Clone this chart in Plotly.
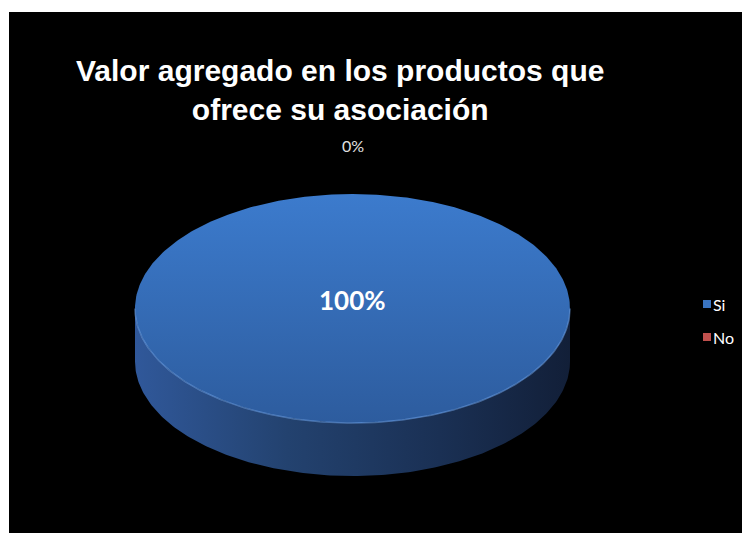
import numpy as np
import plotly.graph_objects as go

# Survey answers
categories = ["Si", "No"]
values = [100, 0]
slice_colors = ["#3a74c0", "#c0504d"]
title_text = "Valor agregado en los productos que<br>ofrece su asociación"

W, H = 742, 533
# Geometry of the tilted pie (pixel space)
cx, cy = 352.5, 308.5
rx, ry = 217.5, 114.5
depth = 53

total = float(sum(values))
fracs = [v / total for v in values]


def edge(theta, dy=0.0):
    # theta measured clockwise from 12 o'clock, in radians
    return cx + rx * np.sin(theta), cy - ry * np.cos(theta) + dy


fig = go.Figure()

# black chart area
fig.add_shape(type="rect", x0=9, x1=W + 1, y0=12, y1=H + 1,
              fillcolor="black", line_width=0, layer="below")

side_scales = [
    [[0, "#30589a"], [0.35, "#23426f"], [0.7, "#1a3054"], [1, "#121f38"]],
    [[0, "#8c3330"], [1, "#4a1a18"]],
]
# top faces: lighter at the far (upper) edge, darker toward the viewer
top_scales = [
    [[0, "#3c7bcd"], [1, "#2d5c9e"]],
    [[0, "#d05a56"], [1, "#a0403d"]],
]

start = 0.0
label_items = []
for i, (name, f) in enumerate(zip(categories, fracs)):
    a0 = start * 2 * np.pi
    a1 = (start + f) * 2 * np.pi
    start += f
    pct = f"{values[i] / total * 100:.0f}%"
    if f <= 0:
        # empty slice: label sits outside at its angle
        lx, ly = edge(a0)
        label_items.append((lx, ly - 49, pct, 16, "#e0e0e0", False))
        continue

    # visible side wall: part of the rim facing the viewer (90..270 deg)
    s0, s1 = max(a0, np.pi / 2), min(a1, 3 * np.pi / 2)
    if s1 > s0:
        t = np.linspace(s0, s1, 200)
        xt, yt = edge(t)
        xb, yb = edge(t[::-1], depth)
        fig.add_trace(go.Scatter(
            x=np.concatenate([xt, xb, xt[:1]]),
            y=np.concatenate([yt, yb, yt[:1]]),
            mode="lines", line=dict(width=0), fill="toself",
            fillgradient=dict(type="horizontal", colorscale=side_scales[i],
                              start=cx - rx, stop=cx + rx),
            hoverinfo="skip", showlegend=False))

    # top face
    t = np.linspace(a0, a1, 400)
    xt, yt = edge(t)
    if f < 1:
        xt = np.concatenate([[cx], xt, [cx]])
        yt = np.concatenate([[cy], yt, [cy]])
    fig.add_trace(go.Scatter(
        x=xt, y=yt, mode="lines", line=dict(width=0), fill="toself",
        fillgradient=dict(type="vertical", colorscale=top_scales[i],
                          start=cy - ry, stop=cy + ry),
        hoverinfo="skip", showlegend=False))

    # soft highlight along the front rim
    if s1 > s0:
        t = np.linspace(s0, s1, 200)
        xt, yt = edge(t)
        fig.add_trace(go.Scatter(x=xt, y=yt, mode="lines",
                                 line=dict(color="rgba(110,160,230,0.55)", width=1.5),
                                 hoverinfo="skip", showlegend=False))

    if f >= 1:
        lx, ly = cx, cy - 9
    else:
        mid = (a0 + a1) / 2
        lx, ly = cx + 0.6 * rx * np.sin(mid), cy - 0.6 * ry * np.cos(mid)
    label_items.append((lx, ly, pct, 26, "white", True))

for lx, ly, txt, size, col, bold in label_items:
    fig.add_annotation(x=lx, y=ly, text=txt, showarrow=False,
                       font=dict(family="Lato", size=size, color=col,
                                 weight="bold" if bold else "normal"))

# legend: small swatches with labels on the right
leg_x, leg_y0, leg_step = 707, 304, 33
for i, name in enumerate(categories):
    fig.add_trace(go.Scatter(
        x=[leg_x], y=[leg_y0 + i * leg_step], mode="markers",
        marker=dict(symbol="square", size=8, color=slice_colors[i],
                    line=dict(width=0)),
        hoverinfo="skip", showlegend=False))
    fig.add_annotation(x=leg_x + 4, y=leg_y0 + i * leg_step, text=name,
                       xanchor="left", showarrow=False,
                       font=dict(family="Lato", size=16, color="white"))

fig.add_annotation(x=340, y=52, yanchor="top", text=title_text, showarrow=False,
                   font=dict(family="Liberation Sans", size=30, color="white",
                             weight="bold"))

fig.update_layout(
    width=W, height=H,
    margin=dict(l=0, r=0, t=0, b=0),
    paper_bgcolor="white", plot_bgcolor="rgba(0,0,0,0)",
    xaxis=dict(range=[0, W], visible=False, fixedrange=True),
    yaxis=dict(range=[H, 0], visible=False, fixedrange=True),
    showlegend=False,
)

fig.write_html("out.html")
